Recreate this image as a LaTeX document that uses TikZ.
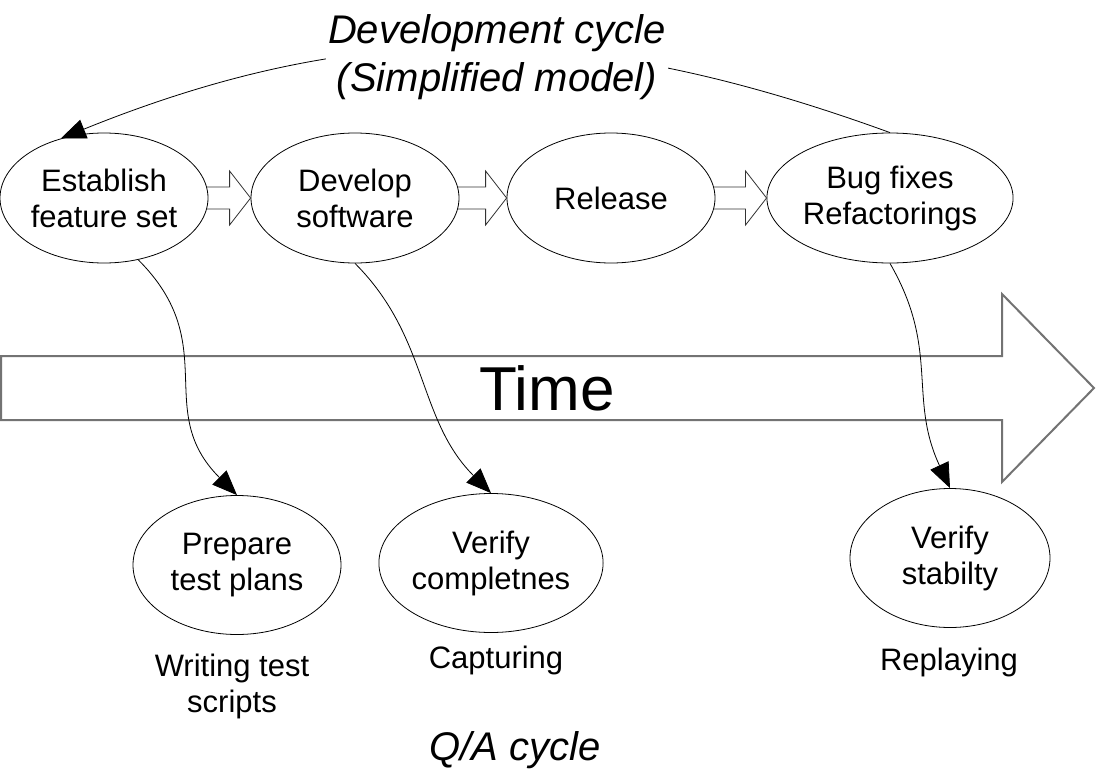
\documentclass[tikz,border=0pt]{standalone}
\usepackage{fontspec}
\setmainfont{Liberation Sans}
\usetikzlibrary{arrows.meta,shapes.geometric,calc}
\newcommand\blockarr[2]{\path[block] let \p1=(#1.east), \p2=(#2.west) in
  (\x1-1.5pt,\y1+11pt) -- (\x2-21pt,\y1+11pt) -- (\x2-21pt,\y1+27pt) -- (\x2,\y1)
  -- (\x2-21pt,\y1-27pt) -- (\x2-21pt,\y1-11pt) -- (\x1-1.5pt,\y1-11pt);}
\begin{document}
\begin{tikzpicture}[x=1pt,y=-1pt,
  stage/.style={draw=black,line width=0.8pt,ellipse,inner sep=0pt,minimum width=208pt,minimum height=130pt,align=center,font=\fontsize{31}{36}\selectfont},
  qa/.style={stage,minimum height=139pt},
  lbl/.style={align=center,font=\fontsize{31}{36}\selectfont},
  conn/.style={draw=black,line width=0.8pt,-{Triangle[length=25pt,width=20pt]}},
  block/.style={draw=black!80,line width=0.8pt,line join=miter},
  timearrow/.style={draw=black!55,line width=2pt,line join=miter}
]
\useasboundingbox (0,0) rectangle (1097,779);

% time arrow
\draw[timearrow] (1,356) -- (1002,356) -- (1002,294) -- (1094,388) -- (1002,482) -- (1002,420) -- (1,420) -- cycle;
\node[font=\fontsize{62}{70}\selectfont] (time) at (547,388) {Time};

% development cycle
\node[stage] (E1) at (104,198) {Establish\\feature set};
\node[stage] (E2) at (355,198) {Develop\\software};
\node[stage] (E3) at (611,198) {Release};
\node[stage,minimum width=224pt] (E4) at (890,198) {Bug fixes\\Refactorings};

\blockarr{E1}{E2}
\blockarr{E2}{E3}
\blockarr{E3}{E4}

% Q/A cycle
\node[qa] (B1) at (237,565) {Prepare\\test plans};
\node[qa] (B2) at (491,563) {Verify\\completnes};
\node[qa,minimum width=200pt] (B3) at (950,558) {Verify\\stabilty};

\node[lbl] (L1) at (232,686) {Writing test\\scripts};
\node[lbl] (L2) at (496,660) {Capturing};
\node[lbl] (L3) at (949,662) {Replaying};
\node[font=\fontsize{40}{48}\selectfont\itshape] (qat) at (515,750) {Q/A cycle};

% connectors
\draw[conn] (E4.north) to[out=160,in=22] (E1.126);
\node[fill=white,inner sep=2pt,align=center,font=\fontsize{40}{48}\selectfont\itshape] (title) at (497,57) {Development cycle\\(Simplified model)};

\draw[conn] (E1.-61) to[out=-45,in=135,looseness=1.2] (B1.north);
\draw[conn] (E2.south) to[out=-45,in=135] (B2.north);
\draw[conn] (E4.south) to[out=-60,in=115,looseness=1.1] (B3.north);
\end{tikzpicture}
\end{document}
